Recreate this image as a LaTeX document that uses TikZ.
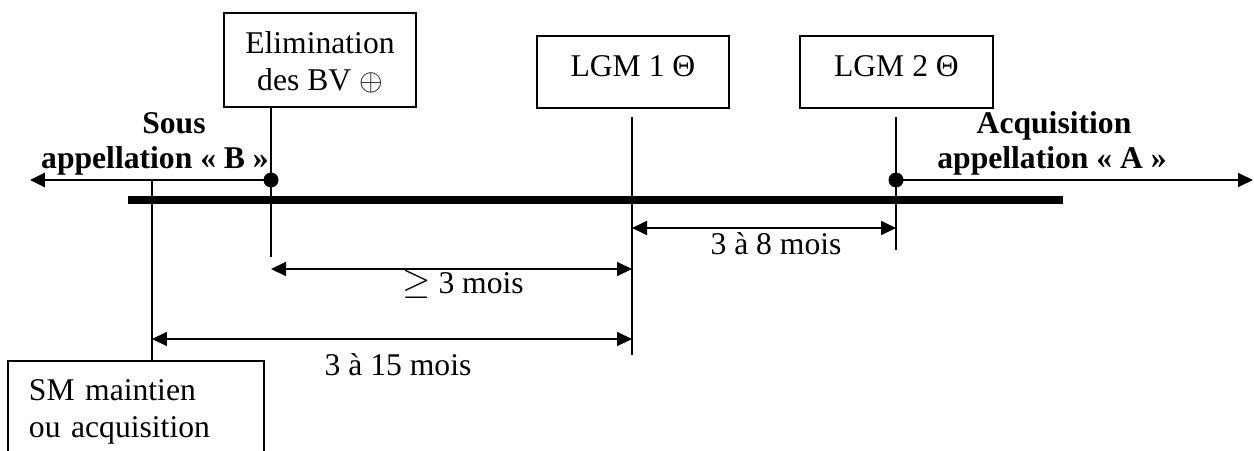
\documentclass[tikz,border=0pt]{standalone}
\usepackage{fontspec}
\setmainfont{Liberation Serif}
\usepackage{tikz}
\usetikzlibrary{arrows.meta}
\usetikzlibrary{calc}

\begin{document}
\begin{tikzpicture}[x=0.02cm, y=-0.02cm,
    every node/.style={font=\fontsize{18}{21}\selectfont},
    box/.style={draw, line width=1.1pt, inner sep=0pt, anchor=north west},
    txt/.style={inner sep=0pt, anchor=base},
    bold/.style={txt, font=\fontsize{18}{21}\selectfont\bfseries},
    tip/.tip={Triangle[length=.3cm, width=.28cm]},
    dim/.style={line width=1.1pt, tip-tip}]

        \useasboundingbox (0,0) rectangle (1254,450);

        \coordinate (smpt) at (152,180);
        \coordinate (bvdot) at (271,180);
        \coordinate (lgmone) at (632,117);
        \coordinate (acqdot) at (896,180);
        \coordinate (lgmtwo) at (896,117);

        \draw[line width=4pt] (128,200) coordinate(barL) -- (1063,200) coordinate(barR);

        \node[box, minimum width=3.84cm, align=center] (elim) at (223,12) {\rule{0pt}{.82cm}Elimination\\des BV $\oplus$\rule[-.32cm]{0pt}{0pt}};
        \node[box, minimum width=3.84cm, text height=.82cm, text depth=.62cm] (lgm1) at (536,35) {LGM 1 Θ};
        \node[box, minimum width=3.86cm, text height=.82cm, text depth=.62cm] (lgm2) at (799,35) {LGM 2 Θ};
        \node[box, text width=4.28cm, inner xsep=.42cm, align=left] (sm) at (7,360) {\rule{0pt}{.8cm}SM maintien\\ou acquisition\rule[-.6cm]{0pt}{0pt}};

        \draw[line width=1.1pt] (smpt) -- (smpt |- sm.north);
        \draw[line width=1.1pt] (elim.south -| bvdot) -- ++(0,149) coordinate(bvend);
        \draw[line width=1.1pt] (lgmone) -- ++(0,238) coordinate(lgmonend);
        \draw[line width=1.1pt] (lgmtwo) -- ++(0,133) coordinate(lgmtwoend);

        \draw[line width=1.7pt, -tip] (bvdot) -- (30,180) coordinate(pastend);
        \draw[line width=1pt, -tip] (acqdot) -- (1253,180) coordinate(futend);
        \fill (bvdot) circle (0.15cm);
        \fill (acqdot) circle (0.15cm);

        \node[bold] (sous) at (174,133) {Sous};
        \node[bold] (applB) at (155,168) {appellation « B »};
        \node[bold] (acq) at (1054,133) {Acquisition};
        \node[bold] (applA) at (1052,168) {appellation « A »};

        \draw[dim] (lgmone |- 0,228) -- (lgmtwo |- 0,228);
        \node[txt] (d38) at (776,254) {3 à 8 mois};
        \draw[dim] (bvdot |- 0,269) -- (lgmone |- 0,269);
        \node[txt] (d3) at (463,293) {{\fontsize{20}{21}\selectfont$\geq$} 3 mois};
        \draw[dim] (smpt |- 0,339) -- (lgmone |- 0,339);
        \node[txt] (d315) at (398,375) {3 à 15 mois};

    \end{tikzpicture}
\end{document}
